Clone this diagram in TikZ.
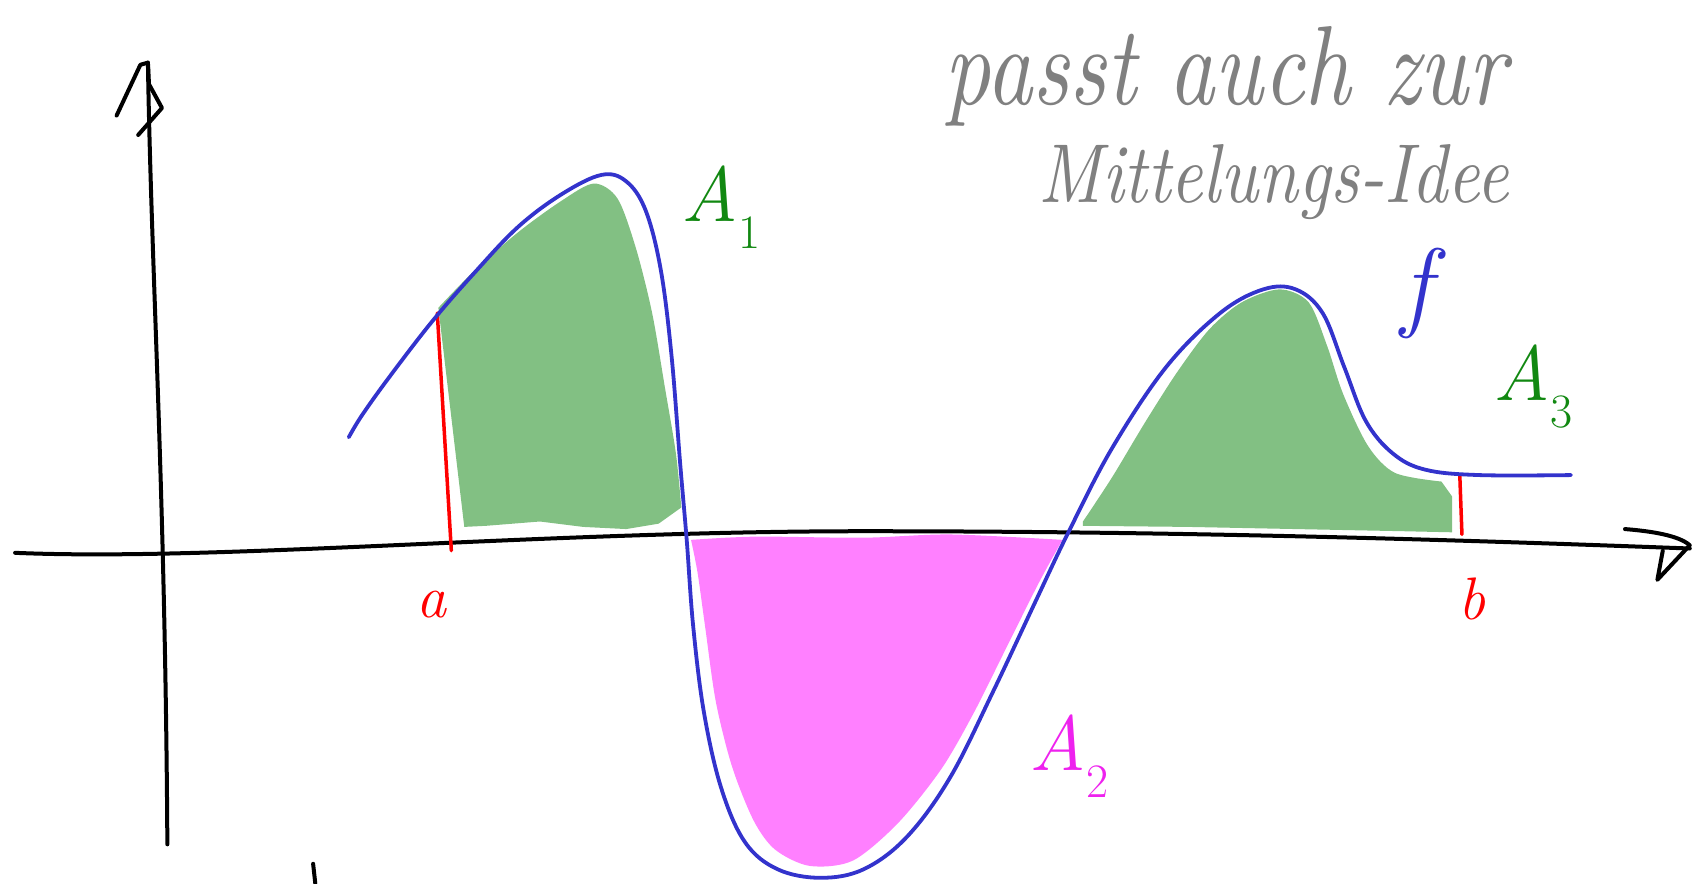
\documentclass[tikz,border=0pt]{standalone}
\usepackage{fontspec}
\usepackage{graphicx}
\definecolor{fblue}{HTML}{3333CC}
\definecolor{agreen}{HTML}{82C083}
\definecolor{apink}{HTML}{FF80FF}
\definecolor{lgreen}{HTML}{118811}
\definecolor{lmag}{HTML}{EE22EE}
\definecolor{tgray}{HTML}{808080}
\newcommand{\subsc}[1]{\raisebox{-0.35em}{\fontsize{48}{50}\selectfont\upshape #1}}
\tikzset{
  axisline/.style={line width=4pt, black, line cap=round, line join=round},
  curveline/.style={line width=3.8pt, fblue, line cap=round},
  redmark/.style={line width=3.5pt, red, line cap=round},
  lbl/.style={inner sep=0pt, font=\fontsize{78}{80}\selectfont\itshape},
  small/.style={inner sep=0pt, font=\fontsize{60}{64}\selectfont\itshape},
}
\begin{document}
\begin{tikzpicture}[x=1.0797pt, y=-1.0797pt]
\useasboundingbox (0,0) rectangle (1568,818);
% fills
\fill[agreen] plot[smooth] coordinates {(406,285) (440,250) (480,215) (520,186) (550,170) (572,184) (589,230) (604,290) (616,360) (626,420) (631,470)}
  -- (610,485) -- (580,490) -- (540,488) -- (500,483) -- (450,487) -- (430,488) -- cycle;
\fill[agreen] plot[smooth] coordinates {(1003,483) (1030,442) (1060,392) (1090,345) (1120,305) (1150,280) (1185,268) (1212,280) (1229,320) (1244,365) (1267,413) (1292,438) (1335,446)}
  -- (1345,460) -- (1345,493) -- (1300,492) -- (1200,490) -- (1100,488) -- (1003,487) -- cycle;
\fill[apink] plot[smooth] coordinates {(640,500) (700,497) (800,498) (880,495) (984,500)}
  -- plot[smooth] coordinates {(984,500) (962,540) (932,600) (902,660) (872,712) (832,762) (790,797) (750,802) (718,787) (698,760) (678,710) (663,650) (653,580) (646,530) (640,500)} -- cycle;
% axes
\coordinate (yb) at (155,782);
\coordinate (yt) at (137,58);
\coordinate (xl) at (14,512);
\coordinate (xr) at (1565,508);
\draw[axisline] (yb) .. controls (153,450) and (140,250) .. (yt);
\draw[axisline] (108,107) -- (130,60) -- (yt) -- (138,78) -- (150,100) -- (128,125);
\draw[axisline] (xl) .. controls (200,520) and (500,492) .. (800,492) .. controls (1100,492) and (1350,500) .. (xr);
\draw[axisline] (1505,490) .. controls (1530,492) and (1555,496) .. (1565,505) -- (1535,537) -- (1540,510);
\draw[axisline] (290,800) -- (292,818);
% red markers
\coordinate (at) at (405,290);
\coordinate (ab) at (418,510);
\coordinate (bt) at (1352,440);
\coordinate (bb) at (1354,495);
\draw[redmark] (at) -- (ab);
\draw[redmark] (bt) -- (bb);
\node[small, text=red] (la) at (400,560) {a};
\node[small, text=red] (lb) at (1363,555) {b};
% curve
\draw[curveline] plot[smooth, tension=0.6] coordinates {(323,405) (335,385) (360,350) (400,298) (440,252) (480,210) (520,180) (557,162) (580,168) (598,195) (612,250) (622,330) (630,430) (636,500) (642,580) (652,660) (668,730) (690,780) (720,805) (760,813) (800,805) (840,775) (880,720) (920,640) (960,555) (990,492) (1030,415) (1080,340) (1130,290) (1170,268) (1200,268) (1225,290) (1245,340) (1265,390) (1290,420) (1320,435) (1370,440) (1455,440)};
% labels
\node[lbl, text=lgreen] (A1) at (668,192) {A\subsc{1}};
\node[lbl, text=lmag] (A2) at (990,700) {A\subsc{2}};
\node[lbl, text=lgreen] (A3) at (1420,358) {A\subsc{3}};
\node[inner sep=0pt, text=fblue, font=\fontsize{100}{100}\selectfont\itshape] (lf) at (1312,272) {f};
% text
\node[inner sep=0pt, anchor=base west, text=tgray] (t1) at (875,97) {\resizebox{561pt}{78pt}{\itshape passt auch zur}};
\node[inner sep=0pt, anchor=base west, text=tgray] (t2) at (962,188) {\resizebox{470pt}{58pt}{\itshape Mittelungs-Idee}};
\end{tikzpicture}
\end{document}
